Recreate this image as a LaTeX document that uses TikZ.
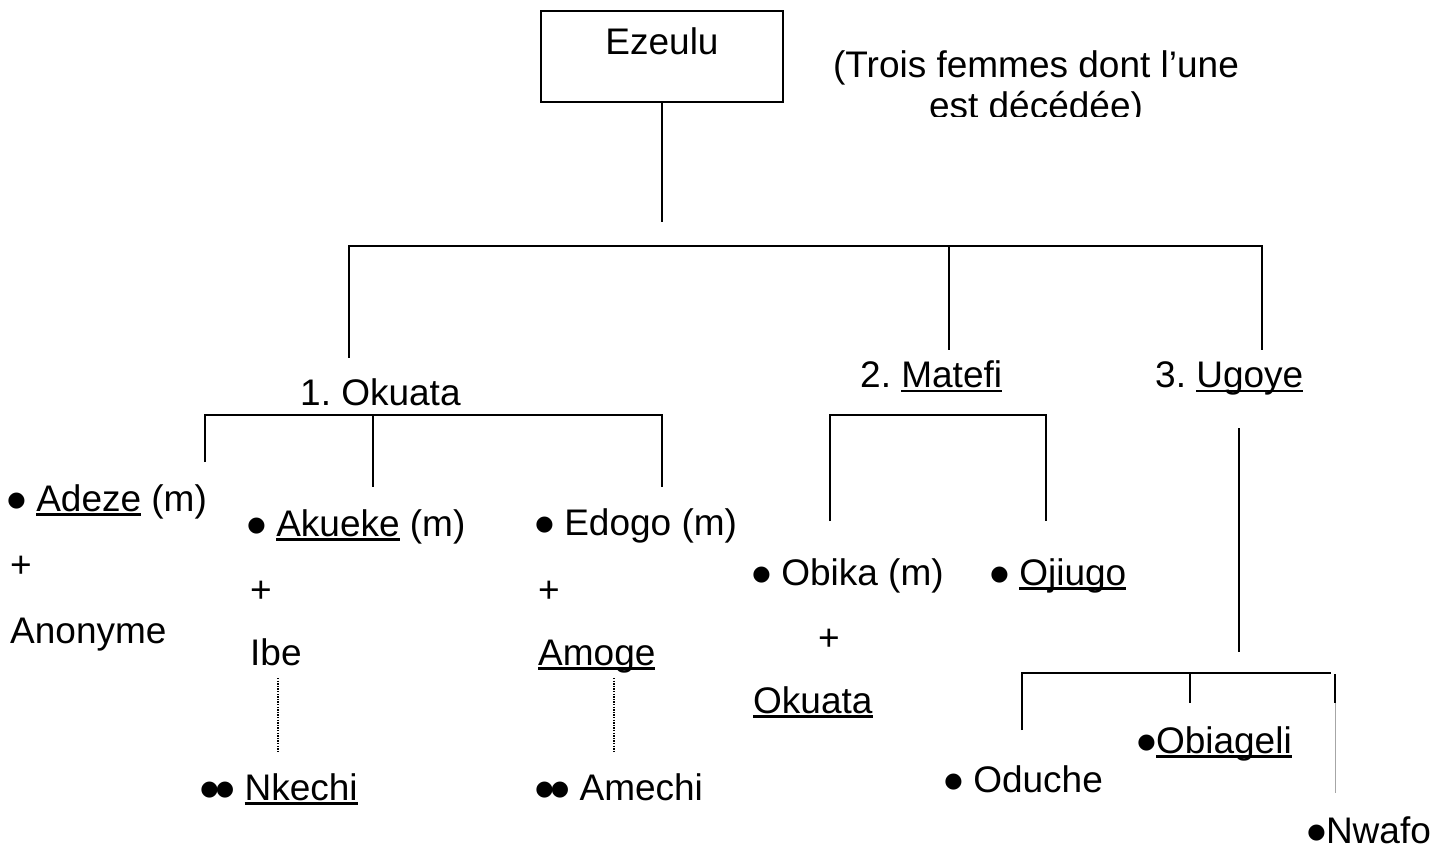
\documentclass[tikz,border=0pt]{standalone}
\usepackage{fontspec}
\setmainfont{Liberation Sans}
\newfontfamily\djv{DejaVu Sans}
\frenchspacing
\newcommand\uln[1]{\leavevmode\setbox0\hbox{#1}\rlap{\rule[-4.5pt]{\wd0}{2.4pt}}\box0\relax}
\newcommand\bul{\makebox[18.8pt][c]{\raisebox{4.5pt}{\fontsize{21}{21}\djv ●}}}
\begin{document}
\begin{tikzpicture}[x=1pt,y=-1pt,
  txt/.style={font=\fontsize{37}{44}\selectfont, inner sep=0pt, anchor=base west},
  ctxt/.style={txt, anchor=base},
  ln/.style={line width=1.6pt, line cap=butt},
  dln/.style={line width=1.2pt, dash pattern=on 1.3pt off 1.3pt},
  gln/.style={line width=0.8pt, black!35}]
\useasboundingbox (0,0) rectangle (1449,850);
% root
\node[draw, line width=1.4pt, minimum width=242pt, minimum height=91pt, inner sep=0pt] (ez) at (662,56.5) {};
\node[ctxt] (ezt) at (662,55) {Ezeulu};
\begin{scope}
\clip (800,0) rectangle (1300,117);
\node[ctxt] (n1) at (1036,78) {(Trois femmes dont l’une};
\node[ctxt] (n2) at (1036,119) {est décédée)};
\end{scope}
% level 1 labels
\node[txt] (ok) at (300,405) {1. Okuata};
\node[txt] (ma) at (860,388) {2. \uln{Matefi}};
\node[txt] (ug) at (1155,388) {3. \uln{Ugoye}};
% connectors top
\coordinate (j0) at (662,222);
\draw[ln] (ez.south) -- (j0);
\coordinate (b1) at (349,358);
\coordinate (b2) at (949,350);
\coordinate (b3) at (1262,350);
\draw[ln] (b1) -- (349,246) -- (1262,246) -- (b3);
\draw[ln] (949,246) -- (b2);
% Okuata children
\coordinate (o1) at (205,462);
\coordinate (o2) at (373,487);
\coordinate (o3) at (662,487);
\draw[ln] (o1) -- (205,415) -- (662,415) -- (o3);
\draw[ln] (373,415) -- (o2);
\node[txt] (ad) at (7,511) {\bul\ \uln{Adeze} (m)};
\node[txt] (adp) at (10,577) {+};
\node[txt] (an) at (10,643) {Anonyme};
\node[txt] (ak) at (247,536) {\bul\ \uln{Akueke} (m)};
\node[txt] (akp) at (250,602) {+};
\node[txt] (ib) at (250,665) {Ibe};
\node[txt] (nk) at (200,800) {\bul\kern-3.5pt\bul\ \uln{Nkechi}};
\coordinate (d1a) at (278,678);
\coordinate (d1b) at (278,752);
\draw[dln] (d1a) -- (d1b);
\node[txt] (ed) at (535,535) {\bul\ Edogo (m)};
\node[txt] (edp) at (538,602) {+};
\node[txt] (am) at (538,665) {\uln{Amoge}};
\node[txt] (ame) at (535,800) {\bul\kern-3.5pt\bul\ Amechi};
\coordinate (d2a) at (614,678);
\coordinate (d2b) at (614,752);
\draw[dln] (d2a) -- (d2b);
% Matefi children
\coordinate (m1) at (830,521);
\coordinate (m2) at (1046,521);
\draw[ln] (m1) -- (830,415) -- (1046,415) -- (m2);
\node[txt] (ob) at (752,585) {\bul\ Obika (m)};
\node[txt] (obp) at (818,650) {+};
\node[txt] (obo) at (753,713) {\uln{Okuata}};
\node[txt] (oj) at (990,585) {\bul\ \uln{Ojiugo}};
% Ugoye children
\coordinate (u0a) at (1239,428);
\coordinate (u0b) at (1239,652);
\draw[ln] (u0a) -- (u0b);
\coordinate (u1) at (1022,730);
\coordinate (u2) at (1190,703);
\draw[ln] (u1) -- (1022,673) -- (1331,673);
\draw[ln] (1190,673) -- (u2);
\coordinate (u3a) at (1335,674);
\coordinate (u3b) at (1335,703);
\coordinate (u3c) at (1335,793);
\draw[ln] (u3a) -- (u3b);
\draw[gln] (u3b) -- (u3c);
\node[txt] (od) at (944,792) {\bul\ Oduche};
\node[txt] (oba) at (1137,753) {\bul\uln{Obiageli}};
\node[txt, text depth=0pt] (nw) at (1307,843) {\bul Nwafo};
\end{tikzpicture}
\end{document}
